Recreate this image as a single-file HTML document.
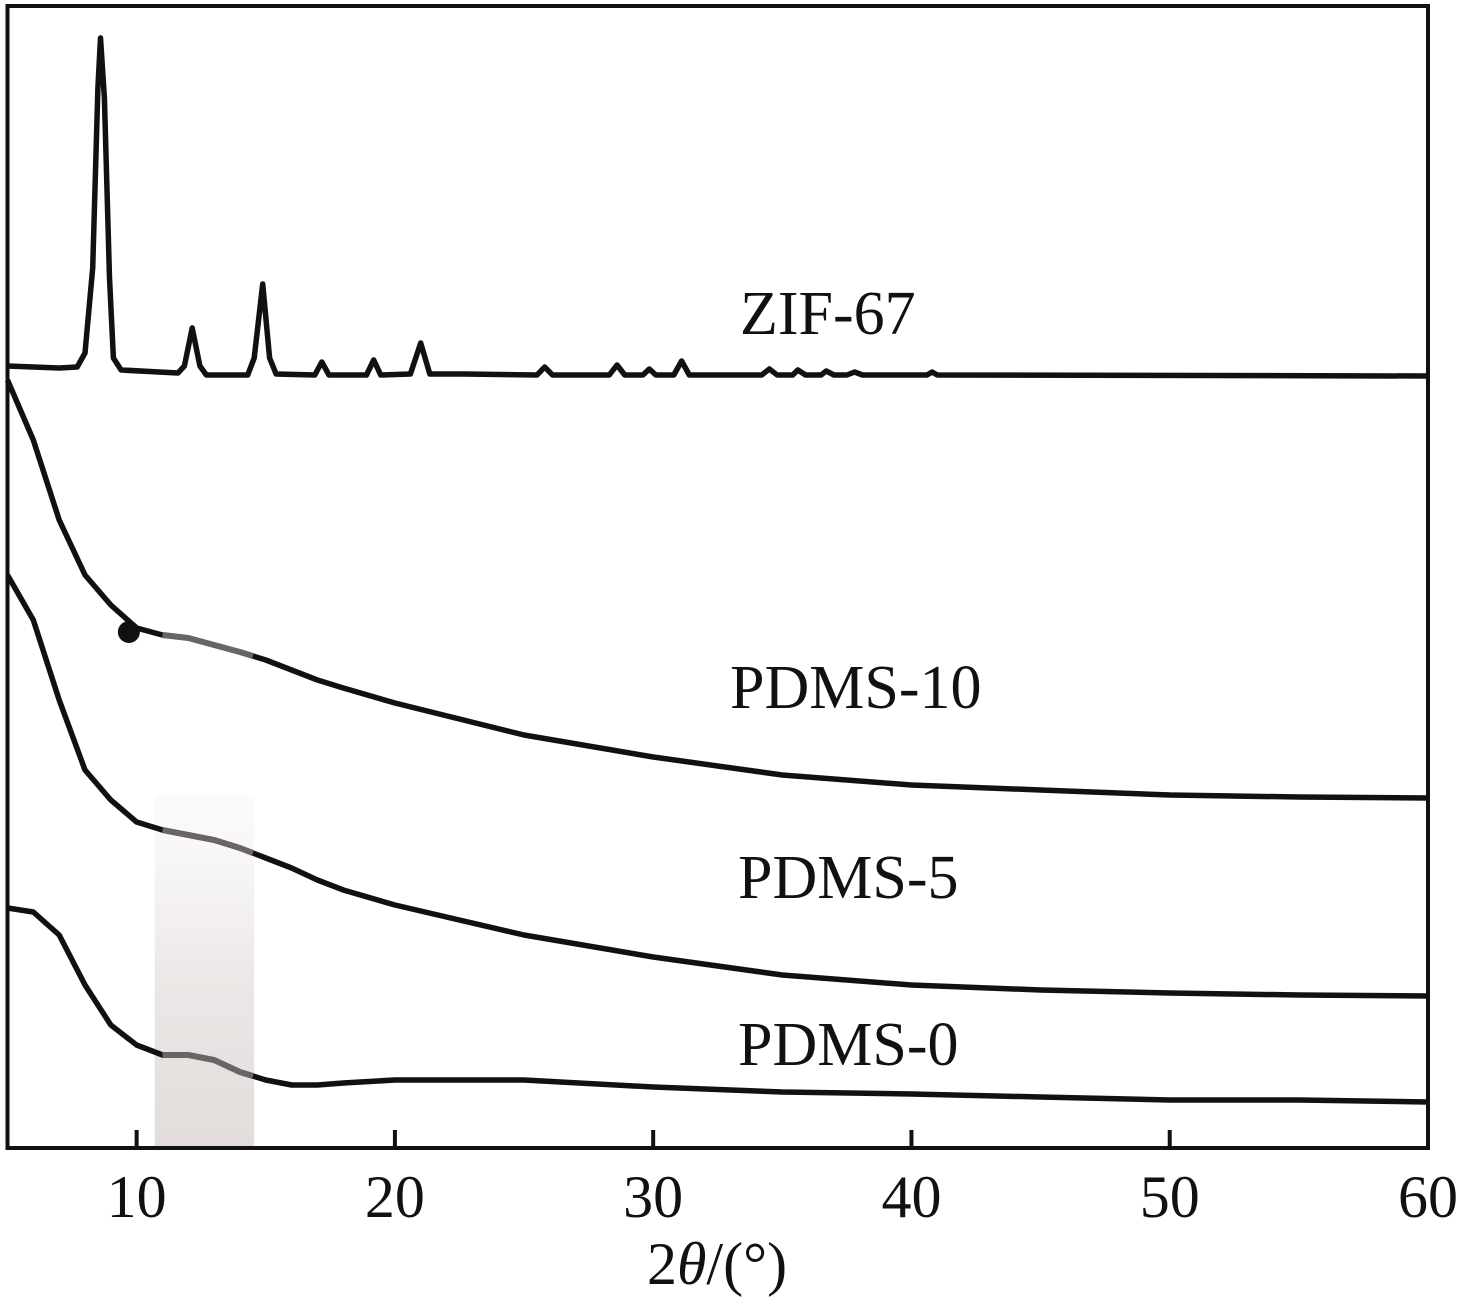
<!DOCTYPE html>
<html><head><meta charset="utf-8">
<style>
html,body{margin:0;padding:0;background:#fff;}
svg{display:block;font-family:"Liberation Serif","Times New Roman",serif;}
</style></head>
<body>
<svg id="chart" width="1465" height="1299" viewBox="0 0 1465 1299">
  <defs>
    <linearGradient id="shade" x1="0" y1="0" x2="0" y2="1">
      <stop offset="0" stop-color="#f4f2f1" stop-opacity="0.3"/>
      <stop offset="0.5" stop-color="#ece8e7"/>
      <stop offset="1" stop-color="#e2dcdb"/>
    </linearGradient>
  </defs>
  <g id="shading"></g>
  <g id="series"></g>
  <rect x="7.5" y="6" width="1420.5" height="1142" fill="none" stroke="#111" stroke-width="4"/>
  <g id="ticks"></g>
  <text x="717" y="1284" font-size="60" text-anchor="middle" fill="#111">2<tspan font-style="italic">θ</tspan>/(°)</text>
  <g id="labels"></g>
</svg>
<script>
// data
const xTicks = [10, 20, 30, 40, 50, 60];
const zifX = [5,7.0,7.7,8.0,8.3,8.5,8.6,8.75,8.95,9.1,9.4,11.6,11.85,12.15,12.45,12.7,14.3,14.55,14.88,15.15,15.4,16.9,17.17,17.45,18.9,19.18,19.45,20.6,21.0,21.35,22.7,25.5,25.8,26.1,28.3,28.6,28.9,29.6,29.85,30.1,30.8,31.1,31.4,34.2,34.5,34.8,35.4,35.6,35.9,36.5,36.7,37,37.5,37.8,38.1,40.6,40.8,41,60];
const zifY = [782,780,781,795,880,1060,1110,1050,870,790,778,775,782,820,782,773,773,790,864,790,774,773,786,773,773,788,773,774,805,774,774,773,781,773,773,783,773,773,779,773,773,787,773,773,779,773,773,778,773,773,777,773,773,776,773,773,776,773,772];
const pdmsX = [5,6,7,8,9,10,11,12,13,14,14.5,15,16,17,18,20,25,30,35,40,45,50,55,60];
const pdms10Y = [768,708,628,573,543,520,513,510,503,496,492,488,478,468,460,445,413,391,373,363,358,353,351,350];
const pdms5Y  = [573,528,448,378,348,326,318,313,308,300,295,290,280,268,258,243,213,191,173,163,158,155,153,152];
const pdms0Y  = [240,236,213,163,123,103,93,93,88,76,72,68,63,63,65,68,68,61,56,54,51,48,48,46];
const seriesNames = ["ZIF-67","PDMS-10","PDMS-5","PDMS-0"];
const bandRange = [10.7, 14.55];
const markerPoint = [9.7, 516];

const NS = "http://www.w3.org/2000/svg";
const X0 = 7.5, X1 = 1428, Y0 = 1148, Y1 = 6;
function xs(v){ return X0 + (v - 5) / 55 * (X1 - X0); }
function ys(v){ return Y0 - v / 1142 * (Y0 - Y1); }
function mk(tag, attrs, parent){ const e = document.createElementNS(NS, tag); for (const k in attrs) e.setAttribute(k, attrs[k]); parent.appendChild(e); return e; }

const band = mk("rect", {x: xs(bandRange[0]), y: 795, width: xs(bandRange[1]) - xs(bandRange[0]), height: Y0 - 795, fill: "url(#shade)"}, document.getElementById("shading"));



const sg = document.getElementById("series");
function pathFor(xArr, yArr){
  let d = "";
  for (let i = 0; i < xArr.length; i++){
    d += (i ? "L" : "M") + xs(xArr[i]).toFixed(1) + "," + ys(yArr[i]).toFixed(1);
  }
  return d;
}
const zp = mk("path", {d: pathFor(zifX, zifY), fill: "none", stroke: "#111", "stroke-width": 5.5, "stroke-linejoin": "round"}, sg);



const pd = [["pdms-10-line", pdms10Y], ["pdms-5-line", pdms5Y], ["pdms-0-line", pdms0Y]];
pd.forEach(([name, arr]) => {
  const p = mk("path", {d: pathFor(pdmsX, arr), fill: "none", stroke: "#111", "stroke-width": 5.5, "stroke-linejoin": "round"}, sg);
  
  
  const xsub = [], ysub = [];
  for (let i = 0; i < pdmsX.length; i++){
    if (pdmsX[i] >= bandRange[0] && pdmsX[i] <= bandRange[1]) { xsub.push(pdmsX[i]); ysub.push(arr[i]); }
  }
  const g = mk("path", {d: pathFor(xsub, ysub), fill: "none", stroke: "#6a6464", "stroke-width": 6, "stroke-linejoin": "round"}, sg);
  
  
});
const dot = mk("circle", {cx: xs(markerPoint[0]), cy: ys(markerPoint[1]), r: 11, fill: "#111"}, sg);



const tg = document.getElementById("ticks");
xTicks.forEach(t => {
  if (t < 60) {
    const l = mk("line", {x1: xs(t), x2: xs(t), y1: Y0, y2: Y0 - 18, stroke: "#111", "stroke-width": 4}, tg);
    
    
  }
  const tx = mk("text", {x: xs(t), y: 1217, "font-size": 60, "text-anchor": "middle", fill: "#111"}, tg);
  tx.textContent = t;
  
  
});

const lg = document.getElementById("labels");
const labelPos = [[740, 334], [730, 708], [738, 898], [738, 1065]];
seriesNames.forEach((n, i) => {
  const t = mk("text", {x: labelPos[i][0], y: labelPos[i][1], "font-size": 62, fill: "#111"}, lg);
  t.textContent = n;
  
  
});
</script>
</body></html>
